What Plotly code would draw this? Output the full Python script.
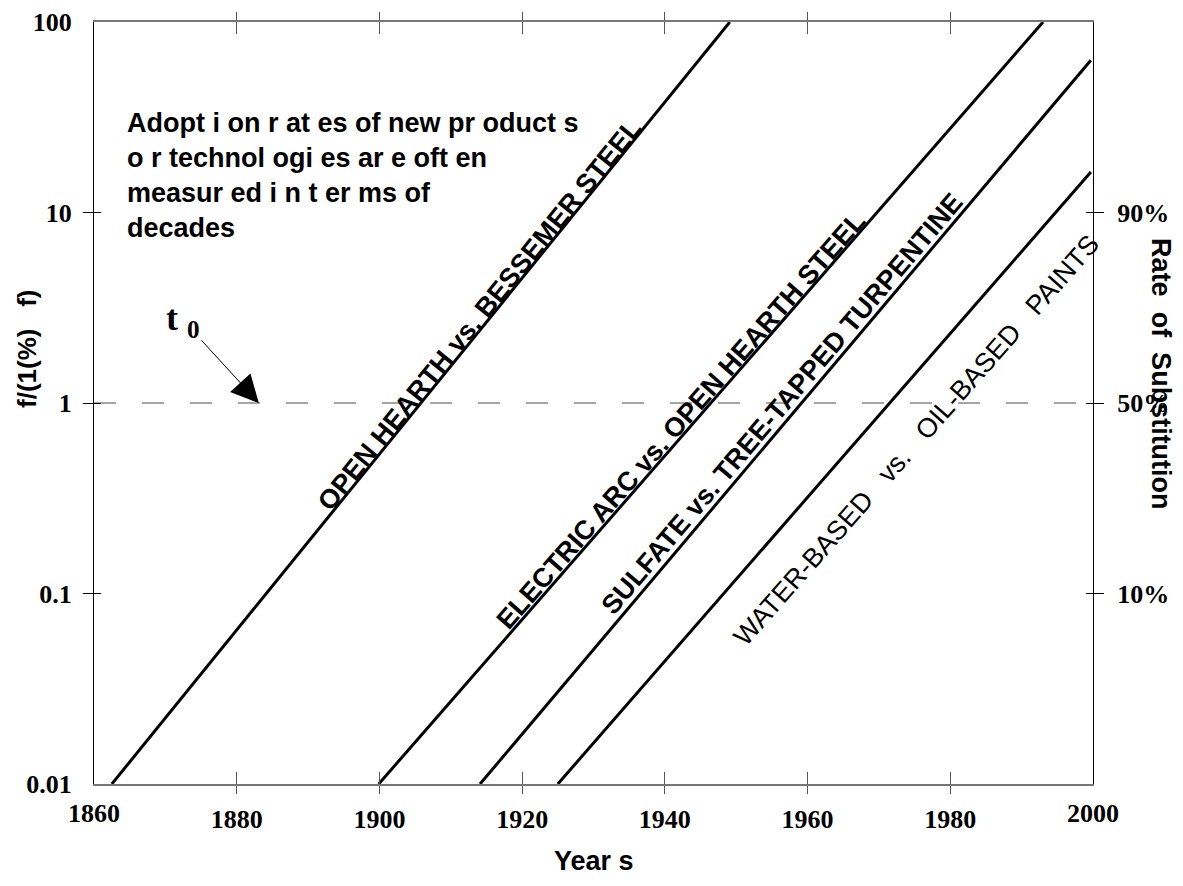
import math
import plotly.graph_objects as go

# ---- data ----
series_names = [
    "OPEN HEARTH vs. BESSEMER STEEL",
    "ELECTRIC ARC vs. OPEN HEARTH STEEL",
    "SULFATE vs. TREE-TAPPED TURPENTINE",
    "WATER-BASED\u00a0\u00a0 vs.\u00a0\u00a0 OIL-BASED\u00a0\u00a0 PAINTS",
]
line_years = [
    [1862.5, 1949.1],
    [1899.9, 1993.0],
    [1914.1, 1999.7],
    [1925.0, 1999.7],
]
line_ratio = [
    [0.01, 100],
    [0.01, 100],
    [0.01, 63],
    [0.01, 16.3],
]
# label anchor points (year, ratio) and orientation
label_years = [1914.0, 1942.3, 1956.4, 1975.3]
label_ratio = [2.90, 0.815, 0.99, 0.64]
label_angle = [-50.9, -48.8, -49.7, -48.6]
label_bold = [True, True, True, False]

x_ticks = [1880, 1900, 1920, 1940, 1960, 1980]
x_corner_labels = [1860, 2000]
y_ticks = [0.01, 0.1, 1, 10, 100]
y_tick_text = ["0.01", "0.1", "1", "10", "100"]
pct_ticks = [0.1, 1, 10]
pct_text = ["10%", "50%", "90%"]
t0_year = 1883.1
unity = 1

x_range = [1860, 2000]
y_range_log = [-2, 2]

SERIF = "Liberation Serif"
SANS = "Liberation Sans"

fig = go.Figure()

# dashed 50% line
fig.add_trace(go.Scatter(
    x=x_range, y=[unity, unity], mode="lines",
    line=dict(color="#4d4d4d", width=1, dash="22px,26px"),
    hoverinfo="skip", showlegend=False))

for xs, ys in zip(line_years, line_ratio):
    fig.add_trace(go.Scatter(
        x=xs, y=ys, mode="lines",
        line=dict(color="black", width=3),
        hoverinfo="skip", showlegend=False))

# helper traces so the overlay axes are drawn
fig.add_trace(go.Scatter(x=[None], y=[None], xaxis="x2", yaxis="y3",
                         showlegend=False, hoverinfo="skip"))
fig.add_trace(go.Scatter(x=[None], y=[None], xaxis="x", yaxis="y2",
                         showlegend=False, hoverinfo="skip"))

tick_font = dict(family=SERIF, size=26, color="black", weight="bold")

fig.update_layout(
    width=1167, height=870,
    margin=dict(l=86, r=82, t=14, b=94, autoexpand=False),
    paper_bgcolor="white", plot_bgcolor="white",
    xaxis=dict(
        range=x_range, tickvals=x_ticks, ticktext=[str(v) for v in x_ticks],
        ticks="outside", ticklen=8, tickwidth=1, tickcolor="#555555",
        showline=True, linecolor="#777777", linewidth=2, mirror="ticks",
        showgrid=False, zeroline=False, tickfont=tick_font,
        ticklabelstandoff=3, automargin=False,
    ),
    xaxis2=dict(
        range=x_range, overlaying="x", tickvals=x_ticks,
        ticks="inside", ticklen=12, tickwidth=1, tickcolor="#555555",
        mirror="ticks", showline=False, showticklabels=False,
        showgrid=False, zeroline=False, automargin=False,
    ),
    yaxis=dict(
        type="log", range=y_range_log, tickvals=y_ticks, ticktext=y_tick_text,
        ticks="", showline=True, linecolor="black", linewidth=1, mirror=True,
        showgrid=False, zeroline=False, tickfont=tick_font,
        ticklabelstandoff=16, automargin=False,
    ),
    yaxis2=dict(
        type="log", range=y_range_log, overlaying="y", side="right",
        tickvals=pct_ticks, ticktext=pct_text,
        ticks="outside", ticklen=10, tickwidth=1, tickcolor="black",
        mirror="ticks", showline=False, showgrid=False, zeroline=False,
        tickfont=tick_font, ticklabelstandoff=8, automargin=False,
    ),
    yaxis3=dict(
        type="log", range=y_range_log, overlaying="y",
        tickvals=pct_ticks, ticks="inside", ticklen=7, tickwidth=1,
        tickcolor="black", mirror="ticks", showline=False,
        showticklabels=False, showgrid=False, zeroline=False,
        automargin=False,
    ),
)

# corner year labels
for yr in x_corner_labels:
    fig.add_annotation(x=yr, y=0, xref="x", yref="paper", yanchor="top",
                       xanchor="center", text=str(yr), showarrow=False,
                       yshift=-13, font=tick_font)

# line labels (annotation y on a log axis is given as log10)
for name, lx, ly, ang, bold in zip(series_names, label_years, label_ratio,
                                   label_angle, label_bold):
    fig.add_annotation(x=lx, y=math.log10(ly), xref="x", yref="y", text=name,
                       textangle=ang, showarrow=False,
                       xanchor="center", yanchor="middle",
                       font=dict(family=SANS, size=27, color="black",
                                 weight="bold" if bold else "normal"))

# explanatory note
fig.add_annotation(
    x=0.031, y=0.799, xref="paper", yref="paper", xanchor="left",
    yanchor="middle", align="left", showarrow=False,
    text=("Adopt i on r at es of new pr oduct s<br>"
          "o r technol ogi es ar e oft en<br>"
          "measur ed i n t er ms of<br>"
          "decades"),
    font=dict(family=SANS, size=27, color="black", weight="bold"))

# t0 label with its arrow pointing at the 50% level
fig.add_annotation(x=t0_year, y=math.log10(unity), xref="x", yref="y",
                   text="t <sub>0</sub>", showarrow=True, arrowhead=2,
                   arrowsize=5.5, arrowwidth=1, arrowcolor="black",
                   ax=-76, ay=-83, standoff=0,
                   font=dict(family=SERIF, size=36, color="black",
                             weight="bold"))

# axis titles
fig.add_annotation(x=-0.067, y=0.571, xref="paper", yref="paper",
                   xanchor="center", yanchor="middle",
                   text="f/(1(%)\u00a0\u00a0 f)", textangle=-90,
                   showarrow=False,
                   font=dict(family=SANS, size=26, color="black",
                             weight="bold"))
fig.add_annotation(x=1.068, y=0.538, xref="paper", yref="paper",
                   xanchor="center", yanchor="middle",
                   text="Rate\u00a0 of\u00a0 Substitution", textangle=90,
                   showarrow=False,
                   font=dict(family=SANS, size=27, color="black",
                             weight="bold"))
fig.add_annotation(x=0.5, y=-0.101, xref="paper", yref="paper",
                   xanchor="center", yanchor="middle",
                   text="Year s", showarrow=False,
                   font=dict(family=SANS, size=27, color="black",
                             weight="bold"))

fig.write_html("out.html")
